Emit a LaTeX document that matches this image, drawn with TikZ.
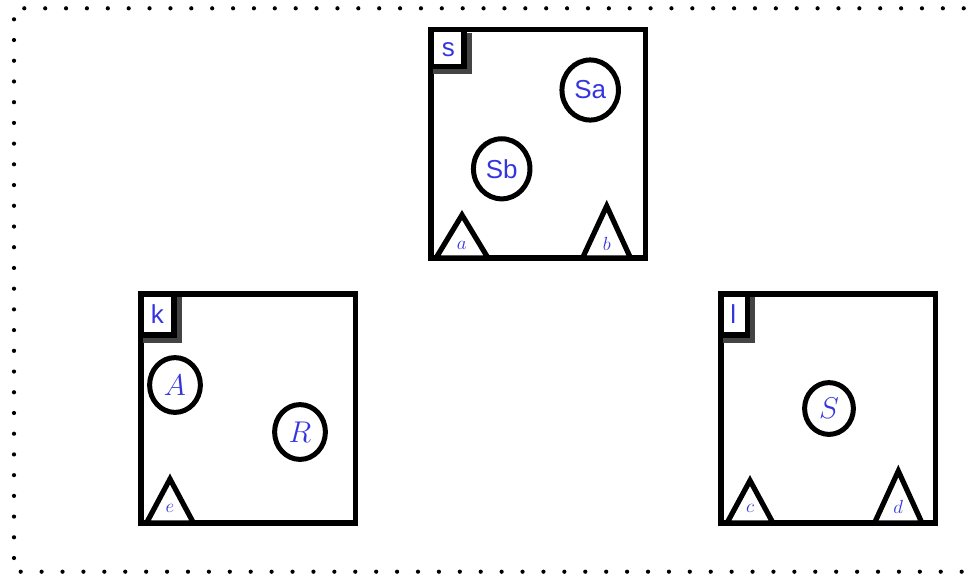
\documentclass[tikz,border=0pt]{standalone}
\usepackage{fix-cm}
\usepackage{fontspec}
\setsansfont{Liberation Sans}
\usetikzlibrary{shapes.geometric}
\definecolor{tblue}{HTML}{3535E0}
\definecolor{shade}{HTML}{444444}
\begin{document}
\begin{tikzpicture}[x=1pt,y=-1pt,line join=miter,
  frame/.style={draw=black,line width=5.2pt},
  shadowbox/.style={draw=shade,fill=shade,line width=5.2pt},
  blob/.style={ellipse,draw=black,line width=5pt,inner sep=0pt,text=tblue},
  tri/.style={draw=black,line width=5.2pt,fill=white},
  tag/.style={text=tblue,font=\sffamily\fontsize{26}{30}\selectfont,inner sep=0pt},
  small/.style={text=tblue,font=\fontsize{19}{22}\selectfont,inner sep=0pt},
  bigmath/.style={font=\fontsize{30}{36}\selectfont},
  sans/.style={font=\sffamily\fontsize{26}{30}\selectfont}]
\useasboundingbox (0,0) rectangle (977,573);
% dotted border
\foreach \i in {0,...,45} \fill (24.3+\i*20.876,8.3) circle (2.1pt);
\foreach \i in {0,...,26} \fill (14,19.3+\i*20.72) circle (2.1pt);
\foreach \i in {0,...,45} \fill (20.7+\i*20.91,571.7) circle (2.1pt);
% ---------- box s ----------
\draw[frame] (431,29.7) rectangle (645.5,258);
\draw[shadowbox] (436,35.2) rectangle (469,71.7);
\draw[frame,fill=white] (431,29.7) rectangle (464,66.2);
\node[tag] (ls) at (448.3,49.3) {s};
\node[blob,sans,minimum width=56.5pt,minimum height=60.1pt] (Sa) at (590.2,90) {Sa};
\node[blob,sans,minimum width=56.5pt,minimum height=60.1pt] (Sb) at (501.7,168.8) {Sb};
\draw[tri] (436,258) -- (462,215) -- (488,258) -- cycle;
\draw[tri] (582.5,258) -- (606.7,206) -- (630.5,258) -- cycle;
\node[small] (ta) at (461.7,245) {$a$};
\node[small] (tb) at (606.7,243.5) {$b$};
% ---------- box k ----------
\draw[frame] (141,294) rectangle (355.5,523);
\draw[shadowbox] (146,299.5) rectangle (179,340.5);
\draw[frame,fill=white] (141,294) rectangle (174,335);
\node[tag] (lk) at (157.3,314.3) {k};
\node[blob,bigmath,minimum width=50.8pt,minimum height=54.8pt] (A) at (175,385) {$A$};
\node[blob,bigmath,minimum width=50.8pt,minimum height=54.8pt] (R) at (300,432) {$R$};
\draw[tri] (146.5,523) -- (170,479) -- (193.5,523) -- cycle;
\node[small] (te) at (170,508) {$e$};
% ---------- box l ----------
\draw[frame] (721,294) rectangle (935.5,523);
\draw[shadowbox] (726,299.5) rectangle (752.5,340.5);
\draw[frame,fill=white] (721,294) rectangle (747.5,335);
\node[tag] (ll) at (733.3,314.3) {l};
\node[blob,bigmath,minimum width=48.8pt,minimum height=51.8pt] (S) at (829,408.5) {$S$};
\draw[tri] (727,523) -- (750,480.5) -- (773,523) -- cycle;
\draw[tri] (874.5,523) -- (898.3,471) -- (922,523) -- cycle;
\node[small] (tc) at (750,508) {$c$};
\node[small] (td) at (898.3,507.2) {$d$};
\end{tikzpicture}
\end{document}
